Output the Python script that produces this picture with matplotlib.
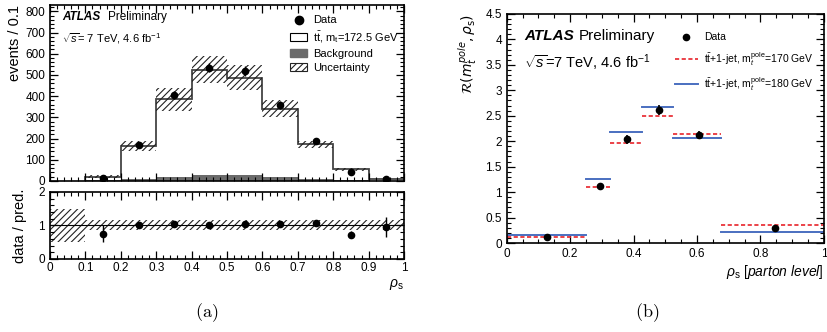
import numpy as np
import matplotlib.pyplot as plt
from matplotlib.patches import Patch
from matplotlib.lines import Line2D
from matplotlib.ticker import MultipleLocator

plt.rcParams['font.family'] = ['Liberation Sans', 'DejaVu Sans']
plt.rcParams['mathtext.fontset'] = 'custom'
plt.rcParams['mathtext.rm'] = 'Liberation Sans'
plt.rcParams['mathtext.it'] = 'Liberation Sans:italic'
plt.rcParams['mathtext.bf'] = 'Liberation Sans:bold'
plt.rcParams['hatch.linewidth'] = 0.8
plt.rcParams['hatch.color'] = '#222222'

# (a) reconstructed rho_s distribution
bin_edges = [0.1, 0.2, 0.3, 0.4, 0.5, 0.6, 0.7, 0.8, 0.9, 1.0]
pred_total = [20, 165, 385, 525, 487, 340, 172, 55, 9]
background = [4, 10, 20, 27, 27, 18, 8, 3, 1]
pred_unc = [6, 22, 55, 65, 58, 40, 18, 6, 2]
data_x = [0.15, 0.25, 0.35, 0.45, 0.55, 0.65, 0.75, 0.85, 0.95]
data_y = [15, 168, 405, 535, 520, 360, 190, 42, 8]
data_err = [4, 13, 20, 23, 23, 19, 14, 6, 3]

ratio_y = [0.75, 1.0, 1.05, 1.0, 1.05, 1.05, 1.08, 0.72, 0.95]
ratio_err = [0.25, 0.08, 0.06, 0.05, 0.05, 0.06, 0.08, 0.1, 0.3]
ratio_band_edges = [0.0, 0.1, 1.0]
ratio_band_lo = [0.5, 0.85]
ratio_band_hi = [1.5, 1.15]

# (b) unfolded distribution
b_edges = [0.0, 0.25, 0.325, 0.425, 0.525, 0.675, 1.0]
b_x = [0.126, 0.293, 0.38, 0.48, 0.605, 0.845]
b_data = [0.12, 1.12, 2.04, 2.62, 2.12, 0.30]
b_err = [0.03, 0.06, 0.09, 0.1, 0.08, 0.03]
b_170 = [0.12, 1.10, 1.97, 2.50, 2.14, 0.35]
b_180 = [0.15, 1.25, 2.18, 2.67, 2.06, 0.22]


def atlas_ticks(ax):
    ax.tick_params(which='both', direction='in', top=True, right=True, labelsize=8.5)
    ax.tick_params(which='major', length=6, width=0.9)
    ax.tick_params(which='minor', length=3, width=0.8)
    for s in ax.spines.values():
        s.set_linewidth(1.2)


fig = plt.figure(figsize=(8.28, 3.32), dpi=100)
ax1 = fig.add_axes([0.0604, 0.455, 0.4276, 0.53])
ax2 = fig.add_axes([0.0604, 0.22, 0.4276, 0.202])
ax3 = fig.add_axes([0.612, 0.268, 0.383, 0.69])

# --- top panel (a)
widths = np.diff(bin_edges)
lefts = np.array(bin_edges[:-1])
ax1.bar(lefts, pred_total, width=widths, align='edge', color='white', edgecolor='none')
ax1.bar(lefts, background, width=widths, align='edge', color='#6a6a6a', edgecolor='none')
ax1.stairs(pred_total, bin_edges, color='#444444', linewidth=1.3, baseline=0, fill=False)
ax1.bar(lefts, 2 * np.array(pred_unc), bottom=np.array(pred_total) - np.array(pred_unc),
        width=widths, align='edge', fill=False, hatch='/////', linewidth=0, edgecolor='#222222')
ax1.errorbar(data_x, data_y, yerr=data_err, fmt='o', color='black', markersize=4.5,
             elinewidth=1, capsize=0)
ax1.set_xlim(0, 1)
ax1.set_ylim(0, 830)
ax1.xaxis.set_major_locator(MultipleLocator(0.1))
ax1.xaxis.set_minor_locator(MultipleLocator(0.02))
ax1.yaxis.set_major_locator(MultipleLocator(100))
ax1.yaxis.set_minor_locator(MultipleLocator(20))
atlas_ticks(ax1)
ax1.set_xticklabels([])
ax1.set_ylabel('events / 0.1', fontsize=10.5, loc='top', labelpad=2)
ax1.text(0.035, 0.915, 'ATLAS', transform=ax1.transAxes, fontsize=8.5,
         fontweight='bold', fontstyle='italic')
ax1.text(0.165, 0.915, 'Preliminary', transform=ax1.transAxes, fontsize=8.5)
ax1.text(0.035, 0.785, r'$\sqrt{s}$= 7 TeV, 4.6 fb$^{-1}$', transform=ax1.transAxes, fontsize=8)

handles = [Line2D([], [], marker='o', color='black', linestyle='none', markersize=6),
           Patch(facecolor='white', edgecolor='black', linewidth=0.8),
           Patch(facecolor='#6a6a6a', edgecolor='#6a6a6a'),
           Patch(facecolor='white', edgecolor='#222222', hatch='/////', linewidth=0.8)]
labels = ['Data', r'$\mathrm{t\bar{t}}$, m$_{\rm t}$=172.5 GeV', 'Background', 'Uncertainty']
ax1.legend(handles, labels, loc='upper left', bbox_to_anchor=(0.655, 0.985), frameon=False,
           fontsize=8, handlelength=1.6, handletextpad=0.5, labelspacing=0.35,
           borderaxespad=0.3)

# --- ratio panel (a)
ax2.stairs(ratio_band_hi, ratio_band_edges, baseline=ratio_band_lo, fill=True,
           facecolor='none', hatch='/////', edgecolor='#222222', linewidth=0)
ax2.axhline(1, color='black', linewidth=0.8)
ax2.errorbar(data_x, ratio_y, yerr=ratio_err, fmt='o', color='black', markersize=4.5,
             elinewidth=1, capsize=0)
ax2.set_xlim(0, 1)
ax2.set_ylim(0, 2)
ax2.xaxis.set_major_locator(MultipleLocator(0.1))
ax2.xaxis.set_minor_locator(MultipleLocator(0.02))
ax2.yaxis.set_major_locator(MultipleLocator(1))
ax2.yaxis.set_minor_locator(MultipleLocator(0.2))
atlas_ticks(ax2)
ax2.set_xticks(np.arange(0, 1.01, 0.1))
ax2.set_xticklabels(['0', '0.1', '0.2', '0.3', '0.4', '0.5', '0.6', '0.7', '0.8', '0.9', '1'])
ax2.tick_params(axis='x', pad=2)
ax2.set_ylabel('data / pred.', fontsize=10.5, labelpad=8)
ax2.set_xlabel(r'$\rho_{\rm s}$', fontsize=10, loc='right', labelpad=2)

# --- panel (b)
for i in range(len(b_data)):
    ax3.plot([b_edges[i], b_edges[i + 1]], [b_180[i], b_180[i]], color='#4a6fc0',
             linewidth=1.4)
    ax3.plot([b_edges[i], b_edges[i + 1]], [b_170[i], b_170[i]], color='#e8222a',
             linewidth=1.2, linestyle=(0, (2.5, 1.5)))
ax3.errorbar(b_x, b_data, yerr=b_err, fmt='o', color='black', markersize=4.5,
             elinewidth=1.2, capsize=0)
ax3.set_xlim(0, 1)
ax3.set_ylim(0, 4.5)
ax3.xaxis.set_major_locator(MultipleLocator(0.2))
ax3.xaxis.set_minor_locator(MultipleLocator(0.05))
ax3.yaxis.set_major_locator(MultipleLocator(0.5))
ax3.yaxis.set_minor_locator(MultipleLocator(0.1))
atlas_ticks(ax3)
ax3.set_xticks([0, 0.2, 0.4, 0.6, 0.8, 1.0])
ax3.set_xticklabels(['0', '0.2', '0.4', '0.6', '0.8', '1'])
ax3.set_yticks([0, 0.5, 1, 1.5, 2, 2.5, 3, 3.5, 4, 4.5])
ax3.set_yticklabels(['0', '0.5', '1', '1.5', '2', '2.5', '3', '3.5', '4', '4.5'])
ax3.set_ylabel(r'$\mathcal{R}(m_t^{pole}, \rho_{\rm s})$', fontsize=10, loc='top',
               labelpad=4, math_fontfamily='dejavusans')
ax3.set_xlabel(r'$\rho_{\rm s}$ $\it{[parton\ level]}$', fontsize=10, loc='right', labelpad=2)
ax3.text(0.054, 0.885, 'ATLAS', transform=ax3.transAxes, fontsize=11,
         fontweight='bold', fontstyle='italic')
ax3.text(0.228, 0.885, 'Preliminary', transform=ax3.transAxes, fontsize=11)
ax3.text(0.054, 0.765, r'$\sqrt{s}$=7 TeV, 4.6 fb$^{-1}$', transform=ax3.transAxes,
         fontsize=10.5)

h3 = [Line2D([], [], marker='o', color='black', linestyle='none', markersize=4.5),
      Line2D([], [], color='#e8222a', linestyle=(0, (2.5, 1.5)), linewidth=1.2),
      Line2D([], [], color='#4a6fc0', linewidth=1.4)]
l3 = ['Data', r'$\mathrm{t\bar{t}}$+1-jet, m$_t^{\rm pole}$=170 GeV',
      r'$\mathrm{t\bar{t}}$+1-jet, m$_t^{\rm pole}$=180 GeV']
ax3.legend(h3, l3, loc='upper left', bbox_to_anchor=(0.5, 0.96), frameon=False,
           fontsize=7.5, handlelength=2.2, handletextpad=0.6, labelspacing=0.7)

fig.text(0.25, 0.045, r'$\mathrm{(a)}$', fontsize=13, ha='center', math_fontfamily='cm')
fig.text(0.781, 0.045, r'$\mathrm{(b)}$', fontsize=13, ha='center', math_fontfamily='cm')

fig.savefig('out.png', dpi=100)
